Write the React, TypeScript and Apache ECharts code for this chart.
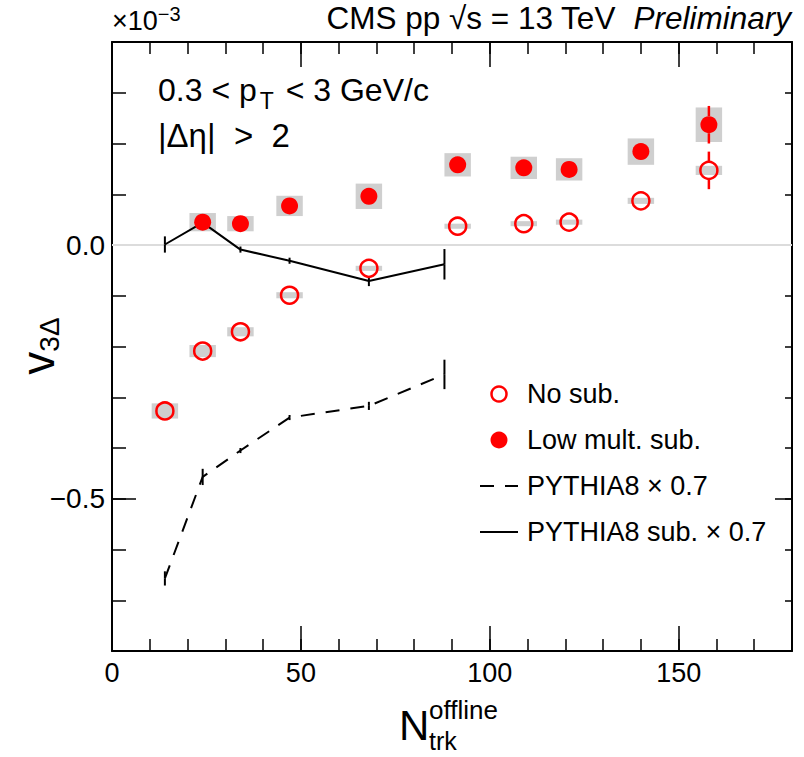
import React, { useEffect, useRef } from 'react';
import * as echarts from 'echarts';

// ---- data (values in units of 1e-3) ----
const NOSUB_X = [14, 24, 34, 47, 68, 91.5, 109, 121, 140, 158];
const NOSUB_Y = [-0.327, -0.209, -0.171, -0.099, -0.046, 0.037, 0.042, 0.045, 0.087, 0.147];
const NOSUB_STAT = [0.003, 0.003, 0.003, 0.003, 0.003, 0.003, 0.003, 0.003, 0.007, 0.037];
const NOSUB_SYS = [0.015, 0.012, 0.009, 0.006, 0.005, 0.005, 0.005, 0.005, 0.006, 0.009];

const LOWSUB_X = [24, 34, 47, 68, 91.5, 109, 121, 140, 158];
const LOWSUB_Y = [0.045, 0.042, 0.077, 0.096, 0.158, 0.152, 0.149, 0.184, 0.237];
const LOWSUB_STAT = [0.003, 0.003, 0.004, 0.005, 0.004, 0.004, 0.004, 0.008, 0.037];
const LOWSUB_SYS = [0.018, 0.015, 0.02, 0.025, 0.023, 0.022, 0.022, 0.026, 0.034];

const PYTHIA_X = [14, 24, 34, 47, 68, 88];
const PYTHIA_Y = [-0.657, -0.457, -0.405, -0.34, -0.317, -0.255];
const PYTHIA_ERR = [0.014, 0.016, 0.005, 0.005, 0.008, 0.029];
const PYTHIA_SUB_Y = [0.001, 0.044, -0.009, -0.031, -0.071, -0.038];
const PYTHIA_SUB_ERR = [0.016, 0.005, 0.006, 0.006, 0.01, 0.03];

const X_MIN = 0;
const X_MAX = 180;
const Y_MIN = -0.8;
const Y_MAX = 0.4;
const X_MAJOR = [0, 50, 100, 150];
const Y_MAJOR = [-0.5, 0.0];
const ZERO_LINE = [[X_MIN, 0], [X_MAX, 0]];
const SYS_HALF_WIDTH = 3.5;

const FONT = '"Liberation Sans", Arial, Helvetica, sans-serif';
const RED = '#ff0000';
const MARKER = 17;

const zip3 = (a: number[], b: number[], c: number[]) => a.map((v, i) => [v, b[i], c[i]]);
const zip2 = (a: number[], b: number[]) => a.map((v, i) => [v, b[i]]);

// vertical error bar; the part hidden by the marker (radius gap px) is skipped
function errRender(color: string, width: number, gap: number) {
  return (params: any, api: any) => {
    const x = api.value(0), y = api.value(1), e = api.value(2);
    const c = api.coord([x, y]);
    const lo = api.coord([x, y - e]);
    const hi = api.coord([x, y + e]);
    const children: any[] = [];
    if (lo[1] - c[1] > gap) {
      children.push({ type: 'line', shape: { x1: c[0], y1: c[1] + gap, x2: lo[0], y2: lo[1] }, style: { stroke: color, lineWidth: width } });
    }
    if (c[1] - hi[1] > gap) {
      children.push({ type: 'line', shape: { x1: c[0], y1: c[1] - gap, x2: hi[0], y2: hi[1] }, style: { stroke: color, lineWidth: width } });
    }
    return { type: 'group', children };
  };
}

function boxRender(color: string) {
  return (params: any, api: any) => {
    const x = api.value(0), y = api.value(1), s = api.value(2);
    const a = api.coord([x - SYS_HALF_WIDTH, y + s]);
    const b = api.coord([x + SYS_HALF_WIDTH, y - s]);
    return {
      type: 'rect',
      shape: { x: a[0], y: a[1], width: b[0] - a[0], height: b[1] - a[1] },
      style: { fill: color },
    };
  };
}

export default function App() {
  const ref = useRef<HTMLDivElement>(null);
  useEffect(() => {
    document.body.style.margin = '0';
    const chart = echarts.init(ref.current!, undefined, { renderer: 'svg' });
    const tickStyle = { color: '#000', width: 1.5 };
    const frame = { show: true, onZero: false, lineStyle: { color: '#000', width: 2 } };
    const noLine = { show: false, onZero: false };
    const xBase = { type: 'value', min: X_MIN, max: X_MAX, splitLine: { show: false } };
    const yBase = { type: 'value', min: Y_MIN, max: Y_MAX, splitLine: { show: false } };
    const yFmt = (v: number) => (v < 0 ? '\u2212' : '') + Math.abs(v).toFixed(1);
    const txt = (size: number, extra: any = {}) => ({ fontSize: size, fontFamily: FONT, fill: '#000', ...extra });

    const option: any = {
      animation: false,
      backgroundColor: '#fff',
      grid: { left: 112, right: 12, top: 42, bottom: 106 },
      xAxis: [
        { ...xBase, position: 'bottom', interval: 10, axisLine: frame, axisTick: { inside: true, length: 12, lineStyle: tickStyle }, axisLabel: { show: false } },
        { ...xBase, position: 'bottom', interval: 50, axisLine: noLine, axisTick: { inside: true, length: 25, lineStyle: tickStyle }, axisLabel: { show: true, color: '#000', fontSize: 27, fontFamily: FONT, margin: 8, customValues: X_MAJOR } },
        { ...xBase, position: 'top', interval: 10, axisLine: frame, axisTick: { inside: true, length: 12, lineStyle: tickStyle }, axisLabel: { show: false } },
        { ...xBase, position: 'top', interval: 50, axisLine: noLine, axisTick: { inside: true, length: 25, lineStyle: tickStyle }, axisLabel: { show: false } },
      ],
      yAxis: [
        { ...yBase, position: 'left', interval: 0.1, axisLine: frame, axisTick: { inside: true, length: 14, lineStyle: tickStyle }, axisLabel: { show: false } },
        { ...yBase, position: 'left', axisLine: noLine, axisTick: { inside: true, length: 24, lineStyle: tickStyle, customValues: Y_MAJOR }, axisLabel: { show: true, color: '#000', fontSize: 28, fontFamily: FONT, margin: 7, customValues: Y_MAJOR, formatter: yFmt } },
        { ...yBase, position: 'right', interval: 0.1, axisLine: frame, axisTick: { inside: true, length: 7, lineStyle: tickStyle }, axisLabel: { show: false } },
        { ...yBase, position: 'right', axisLine: noLine, axisTick: { inside: true, length: 17, lineStyle: tickStyle, customValues: Y_MAJOR }, axisLabel: { show: false } },
      ],
      series: [
        { type: 'line', data: ZERO_LINE, symbol: 'none', silent: true, lineStyle: { color: '#dcdcdc', width: 2 }, z: 1 },
        { type: 'custom', data: zip3(NOSUB_X, NOSUB_Y, NOSUB_SYS), renderItem: boxRender('#cfcfcf'), encode: { x: 0, y: 1 }, z: 2 },
        { type: 'custom', data: zip3(LOWSUB_X, LOWSUB_Y, LOWSUB_SYS), renderItem: boxRender('#cfcfcf'), encode: { x: 0, y: 1 }, z: 2 },
        { type: 'line', data: zip2(PYTHIA_X, PYTHIA_Y), symbol: 'none', lineStyle: { color: '#000', width: 2, type: [14, 11] }, z: 3 },
        { type: 'custom', data: zip3(PYTHIA_X, PYTHIA_Y, PYTHIA_ERR), renderItem: errRender('#000', 2, 0), encode: { x: 0, y: 1 }, z: 3 },
        { type: 'line', data: zip2(PYTHIA_X, PYTHIA_SUB_Y), symbol: 'none', lineStyle: { color: '#000', width: 2 }, z: 3 },
        { type: 'custom', data: zip3(PYTHIA_X, PYTHIA_SUB_Y, PYTHIA_SUB_ERR), renderItem: errRender('#000', 2, 0), encode: { x: 0, y: 1 }, z: 3 },
        { type: 'custom', data: zip3(NOSUB_X, NOSUB_Y, NOSUB_STAT), renderItem: errRender(RED, 2.5, MARKER / 2), encode: { x: 0, y: 1 }, z: 4 },
        { type: 'custom', data: zip3(LOWSUB_X, LOWSUB_Y, LOWSUB_STAT), renderItem: errRender(RED, 2.5, MARKER / 2), encode: { x: 0, y: 1 }, z: 4 },
        { name: 'No sub.', type: 'scatter', data: zip2(NOSUB_X, NOSUB_Y), symbol: 'circle', symbolSize: MARKER, itemStyle: { color: 'rgba(255,255,255,0)', borderColor: RED, borderWidth: 2.5, opacity: 1 }, z: 5 },
        { name: 'Low mult. sub.', type: 'scatter', data: zip2(LOWSUB_X, LOWSUB_Y), symbol: 'circle', symbolSize: MARKER, itemStyle: { color: RED, opacity: 1 }, z: 5 },
      ],
      graphic: [
        { type: 'text', left: 112, top: 4, style: { text: '{a|\u00d710}{s|\u22123}', rich: { a: txt(27), s: txt(20, { padding: [0, 0, 14, 0] }) } } },
        { type: 'text', right: 13, top: 2, style: { text: '{a|CMS pp \u221As = 13 TeV  }{i|Preliminary}', rich: { a: txt(31.5), i: txt(31.5, { fontStyle: 'italic' }) } } },
        { type: 'text', left: 158, top: 74, style: { text: '{a|0.3 < p}{s|T}{a| < 3 GeV/c}', rich: { a: txt(32), s: txt(23, { padding: [22, 3, 0, 3] }) } } },
        { type: 'text', left: 158, top: 119, style: { text: '|\u0394\u03b7|  >  2', ...txt(33) } },
        { type: 'text', x: 38, y: 346, rotation: Math.PI / 2, style: { text: '{v|v}{s|3\u0394}', align: 'center', verticalAlign: 'middle', rich: { v: txt(46), s: txt(28, { padding: [22, 0, 0, 0] }) } } },
        { type: 'text', x: 399, y: 725, style: { text: 'N', ...txt(42), verticalAlign: 'middle' } },
        { type: 'text', x: 429, y: 710, style: { text: 'offline', ...txt(26), verticalAlign: 'middle' } },
        { type: 'text', x: 429, y: 741, style: { text: 'trk', ...txt(25), verticalAlign: 'middle' } },
        // legend
        { type: 'circle', shape: { cx: 499, cy: 394, r: 7.5 }, style: { fill: 'none', stroke: RED, lineWidth: 2.5 } },
        { type: 'circle', shape: { cx: 499, cy: 440, r: 8.5 }, style: { fill: RED } },
        { type: 'line', shape: { x1: 480, y1: 486, x2: 518, y2: 486 }, style: { stroke: '#000', lineWidth: 2, lineDash: [14, 11] } },
        { type: 'line', shape: { x1: 480, y1: 532, x2: 518, y2: 532 }, style: { stroke: '#000', lineWidth: 2 } },
        { type: 'text', x: 527, y: 394, style: { text: 'No sub.', ...txt(27), verticalAlign: 'middle' } },
        { type: 'text', x: 527, y: 440, style: { text: 'Low mult. sub.', ...txt(27), verticalAlign: 'middle' } },
        { type: 'text', x: 527, y: 486, style: { text: 'PYTHIA8 \u00d7 0.7', ...txt(27), verticalAlign: 'middle' } },
        { type: 'text', x: 527, y: 532, style: { text: 'PYTHIA8 sub. \u00d7 0.7', ...txt(27), verticalAlign: 'middle' } },
      ],
    };
    chart.setOption(option);
    return () => chart.dispose();
  }, []);
  return <div ref={ref} style={{ width: 804, height: 757, position: 'absolute', left: 0, top: 0 }} />;
}
